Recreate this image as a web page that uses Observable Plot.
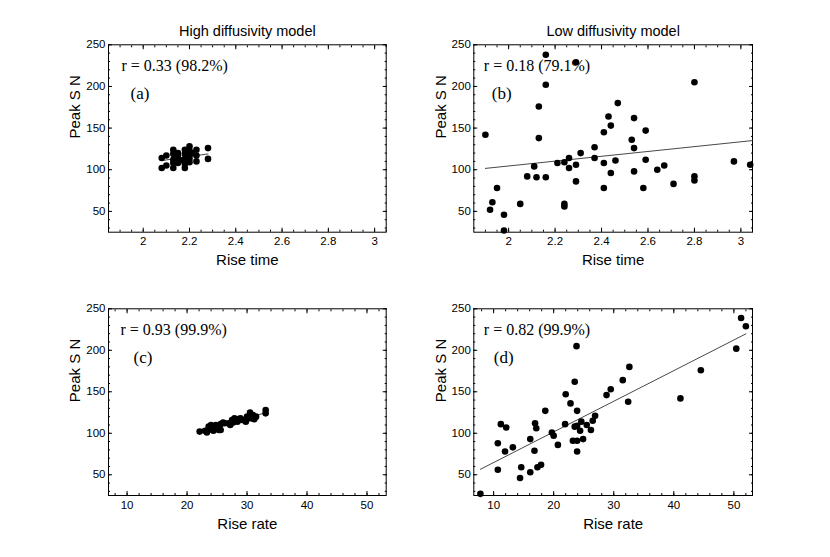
<!DOCTYPE html>
<html><head><meta charset="utf-8">
<script src="https://cdn.jsdelivr.net/npm/d3@7"></script>
<script src="https://cdn.jsdelivr.net/npm/@observablehq/plot@0.6"></script>
<style>
body{margin:0;background:#fff;}
#wrap{position:relative;width:830px;height:557px;background:#fff;overflow:hidden;}
#wrap > svg{position:absolute;}
</style></head><body><div id="wrap"></div>
<script>
// ---- data ----
const titles = ["High diffusivity model", "Low diffusivity model"];
const xLabels = ["Rise time", "Rise rate"];
const yLabel = "Peak S N";
const corrTexts = ["r = 0.33 (98.2%)", "r = 0.18 (79.1%)", "r = 0.93 (99.9%)", "r = 0.82 (99.9%)"];
const panelTags = ["(a)", "(b)", "(c)", "(d)"];

const timeTicks = [2, 2.2, 2.4, 2.6, 2.8, 3];
const rateTicks = [10, 20, 30, 40, 50];
const peakTicks = [50, 100, 150, 200, 250];

// (a) high diffusivity: rise time vs peak
const riseTimeA = [2.08,2.08,2.10,2.10,2.13,2.13,2.13,2.13,2.13,2.15,2.15,2.15,2.15,2.16,2.18,2.18,2.18,2.18,2.18,2.19,2.20,2.20,2.20,2.20,2.20,2.21,2.23,2.23,2.23,2.28,2.28];
const peakA     = [114,102,117,105,124,119,112,108,102,120,117,114,108,111,124,119,113,107,102,110,128,123,117,113,109,120,124,117,110,126,113];
const fitA = {x: [2.08, 2.28], y: [111, 119]};

// (b) low diffusivity: rise time vs peak
const riseTimeB = [1.90,1.92,1.93,1.95,1.98,1.98,2.05,2.08,2.11,2.12,2.13,2.13,2.16,2.16,2.16,2.21,2.24,2.24,2.24,2.26,2.26,2.29,2.29,2.29,2.31,2.37,2.37,2.41,2.41,2.41,2.43,2.44,2.44,2.46,2.47,2.53,2.54,2.54,2.54,2.58,2.59,2.59,2.64,2.67,2.71,2.80,2.80,2.80,2.97,3.04];
const peakB     = [142,52,61,78,46,27,59,92,104,91,176,138,238,202,91,108,109,59,56,114,102,106,86,229,120,127,114,145,108,78,164,153,96,111,180,136,162,126,98,78,147,112,100,105,83,205,92,87,110,106];
const fitB = {x: [1.90, 3.05], y: [101.6, 135]};

// (c) high diffusivity: rise rate vs peak
const riseRateC = [22.1,23.0,23.3,23.6,23.8,24.0,24.2,24.4,24.5,24.8,25.0,25.3,25.6,25.6,26.0,26.3,26.9,27.2,27.5,27.7,27.9,28.1,28.4,28.6,28.9,29.2,29.5,29.8,30.0,30.3,30.5,30.6,30.8,31.0,31.2,31.5,33.1,33.1];
const peakC     = [102,103,101,108,105,110,104,103,108,110,107,104,104,111,113,112,112,110,116,113,118,115,114,117,118,116,116,114,120,118,125,122,118,122,117,120,128,124];
const fitC = {x: [22.2, 33.2], y: [102, 125]};

// (d) low diffusivity: rise rate vs peak
const riseRateD = [7.8,10.7,10.7,11.2,11.9,12.1,13.2,14.4,14.6,16.1,16.1,16.9,16.8,17.1,17.3,17.9,18.6,19.7,20.0,20.7,22.0,21.9,22.8,23.2,23.5,23.5,23.8,23.9,23.9,23.9,23.9,24.4,24.6,24.9,25.5,26.2,26.5,26.9,28.8,29.5,31.5,32.6,32.4,41.1,44.5,50.4,51.2,52.0];
const peakD     = [27,56,88,111,78,107,83,46,59,93,53,112,79,106,59,62,127,101,97,86,147,111,136,91,162,108,205,127,109,91,78,103,114,93,110,104,115,121,146,153,164,180,138,142,176,202,239,229];
const fitD = {x: [7.8, 52.0], y: [56.6, 219.8]};

// ---- drawing ----
const sans = "'Liberation Sans', Arial, Helvetica, sans-serif";
const serif = "'Liberation Serif', 'Times New Roman', Times, serif";
const wrap = document.getElementById("wrap");

function panel({xs, ys, fit, xDomain, xTicks, xMinor, xLabel, title, corr, tag,
                left, top, width, height, mL, mR, mT, mB, corrDx, tagDx}) {
  const pts = xs.map((x, i) => ({x, y: ys[i]}));
  const line = fit.x.map((x, i) => ({x, y: fit.y[i]}));
  const yMinor = d3.range(30, 251, 10);
  const marks = [
    Plot.frame({stroke: "#000", strokeWidth: 1}),
    Plot.axisX(xTicks, {anchor: "bottom", tickSize: -4, fill: "none", label: null}),
    Plot.axisX(xMinor, {anchor: "bottom", tickSize: -2, fill: "none", label: null}),
    Plot.axisX(xTicks, {anchor: "top", tickSize: -4, fill: "none", label: null}),
    Plot.axisX(xMinor, {anchor: "top", tickSize: -2, fill: "none", label: null}),
    Plot.axisY(peakTicks, {anchor: "left", tickSize: -4, fill: "none", label: null}),
    Plot.axisY(yMinor, {anchor: "left", tickSize: -2, fill: "none", label: null}),
    Plot.axisY(peakTicks, {anchor: "right", tickSize: -4, fill: "none", label: null}),
    Plot.axisY(yMinor, {anchor: "right", tickSize: -2, fill: "none", label: null}),
    Plot.axisX(xTicks, {anchor: "bottom", tickSize: 0, tickPadding: 5, fontSize: 11.5, label: null, tickFormat: d => String(d)}),
    Plot.axisY(peakTicks, {anchor: "left", tickSize: 0, tickPadding: 3, fontSize: 11.5, label: null, tickFormat: d => String(d)}),
    Plot.text([xLabel], {frameAnchor: "bottom", dy: 33, lineAnchor: "bottom", fontSize: 15, fontFamily: sans}),
    Plot.text([yLabel], {frameAnchor: "left", dx: -33, rotate: -90, lineAnchor: "middle", fontSize: 15, fontFamily: sans}),
    Plot.text([corr], {frameAnchor: "top-left", dx: corrDx, dy: 26, textAnchor: "start", lineAnchor: "bottom", fontSize: 16, fontFamily: serif}),
    Plot.text([tag], {frameAnchor: "top-left", dx: tagDx, dy: 54, textAnchor: "start", lineAnchor: "bottom", fontSize: 17, fontFamily: serif}),
    Plot.line(line, {x: "x", y: "y", stroke: "#333", strokeWidth: 0.9}),
    Plot.dot(pts, {x: "x", y: "y", r: 3.3, fill: "#000", stroke: "none"})
  ];
  if (title) marks.push(Plot.text([title], {frameAnchor: "top", dy: -9, lineAnchor: "bottom", fontSize: 14.5, fontFamily: sans}));
  const svg = Plot.plot({
    width, height,
    marginLeft: mL, marginRight: mR, marginTop: mT, marginBottom: mB,
    style: {fontFamily: sans, fontSize: "11.5px", color: "#000", background: "transparent", overflow: "visible"},
    x: {domain: xDomain},
    y: {domain: [25, 250]},
    marks
  });
  svg.style.left = left + "px";
  svg.style.top = top + "px";
  wrap.appendChild(svg);
}

const timeMinor = d3.range(1.9, 3.051, 0.05).map(d => +d.toFixed(2));
const rateMinor = d3.range(8, 53.1, 2);

panel({xs: riseTimeA, ys: peakA, fit: fitA, xDomain: [1.85, 3.05], xTicks: timeTicks, xMinor: timeMinor,
  xLabel: xLabels[0], title: titles[0], corr: corrTexts[0], tag: panelTags[0],
  left: 0, top: 0, width: 415, height: 278, mL: 108, mR: 29.3, mT: 44.3, mB: 46.3, corrDx: 13, tagDx: 22});
panel({xs: riseTimeB, ys: peakB, fit: fitB, xDomain: [1.85, 3.05], xTicks: timeTicks, xMinor: timeMinor,
  xLabel: xLabels[0], title: titles[1], corr: corrTexts[1], tag: panelTags[1],
  left: 415, top: 0, width: 415, height: 278, mL: 58.3, mR: 78, mT: 44.3, mB: 46.3, corrDx: 10, tagDx: 18});
panel({xs: riseRateC, ys: peakC, fit: fitC, xDomain: [6.9, 53.2], xTicks: rateTicks, xMinor: rateMinor,
  xLabel: xLabels[1], title: null, corr: corrTexts[2], tag: panelTags[2],
  left: 0, top: 278, width: 415, height: 279, mL: 108, mR: 29.3, mT: 30.3, mB: 62, corrDx: 12, tagDx: 25});
panel({xs: riseRateD, ys: peakD, fit: fitD, xDomain: [6.7, 53.1], xTicks: rateTicks, xMinor: rateMinor,
  xLabel: xLabels[1], title: null, corr: corrTexts[3], tag: panelTags[3],
  left: 415, top: 278, width: 415, height: 279, mL: 58.3, mR: 78, mT: 30.3, mB: 62, corrDx: 10, tagDx: 20});
</script></body></html>
